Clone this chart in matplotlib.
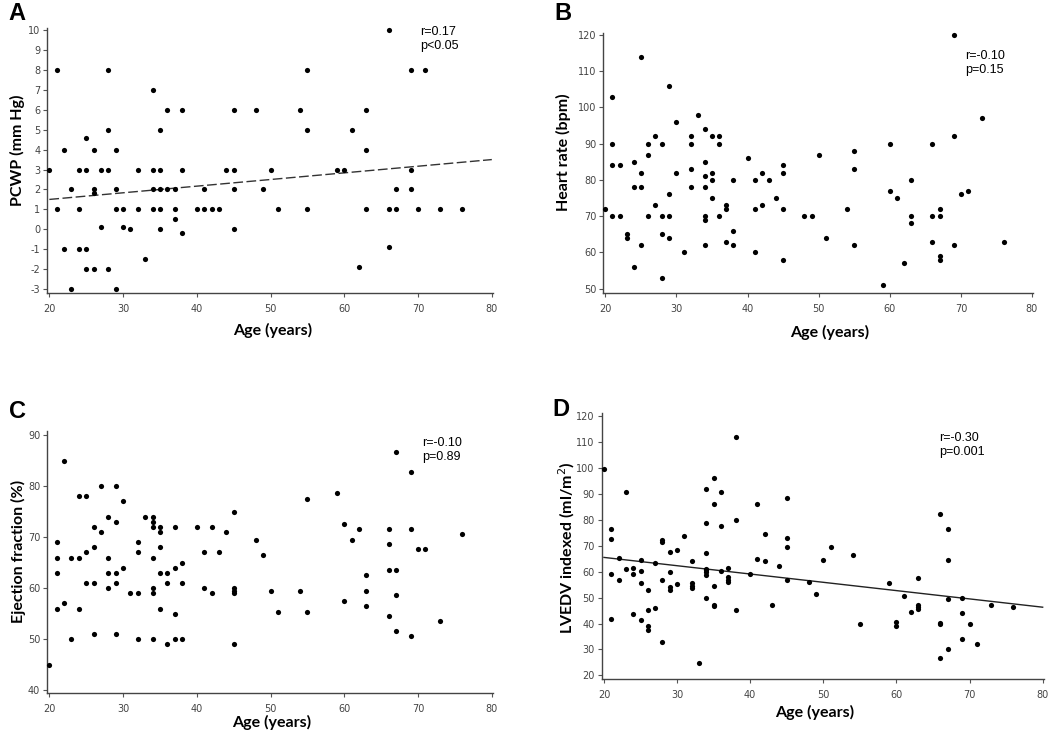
import numpy as np
import matplotlib.pyplot as plt

plt.rcParams['axes.unicode_minus'] = False

# --------------------------------------------------------------------------------------
# Data (age in years, one value per patient)

age_a = [20,
         21, 21, 22, 22, 23, 23,
         24, 24, 24,
         25, 25, 25, 25,
         26, 26, 26, 26,
         27, 27,
         28, 28, 28, 28,
         29, 29, 29, 29,
         30, 30, 31, 32, 32, 33,
         34, 34, 34, 34,
         35, 35, 35, 35, 35,
         36, 36,
         37, 37, 37,
         38, 38, 38,
         40, 41, 41, 42, 43, 44,
         45, 45, 45, 45,
         48, 49, 50, 51, 54,
         55, 55, 55,
         59, 60, 61, 62,
         63, 63, 63,
         66, 66, 66,
         67, 67,
         69, 69, 69,
         70, 71, 73, 76]
pcwp = [3,
        8, 1, 4, -1, 2, -3,
        3, 1, -1,
        4.6, 3, -1, -2,
        4, 2, 1.8, -2,
        3, 0.1,
        8, 5, 3, -2,
        4, 2, 1, -3,
        1, 0.1, 0, 3, 1, -1.5,
        7, 3, 2, 1,
        5, 3, 2, 1, 0,
        6, 2,
        2, 1, 0.5,
        6, 3, -0.2,
        1, 2, 1, 1, 1, 3,
        6, 3, 2, 0,
        6, 2, 3, 1, 6,
        8, 5, 1,
        3, 3, 5, -1.9,
        6, 4, 1,
        10, 1, -0.9,
        2, 1,
        8, 3, 2,
        1, 8, 1, 1]

age_b = [20,
         21, 21, 21, 21,
         22, 22, 23, 23,
         24, 24, 24,
         25, 25, 25, 25,
         26, 26, 26,
         27, 27,
         28, 28, 28, 28,
         29, 29, 29, 29,
         30, 30, 31,
         32, 32, 32, 32,
         33,
         34, 34, 34, 34, 34, 34, 34,
         35, 35, 35, 35,
         36, 36, 36,
         37, 37, 37,
         38, 38, 38,
         40, 41, 41, 41,
         42, 42, 43, 44,
         45, 45, 45, 45,
         48, 49, 50, 51, 54,
         55, 55, 55,
         59, 60, 60, 61, 62,
         63, 63, 63,
         66, 66, 66,
         67, 67, 67, 67,
         69, 69, 69,
         70, 71, 73, 76]
heart_rate = [72,
              103, 90, 84, 70,
              84, 70, 65, 64,
              85, 78, 56,
              114, 82, 78, 62,
              90, 87, 70,
              92, 73,
              90, 70, 65, 53,
              106, 76, 70, 64,
              96, 82, 60,
              92, 90, 83, 78,
              98,
              94, 85, 81, 78, 70, 69, 62,
              92, 82, 80, 75,
              92, 90, 70,
              73, 72, 63,
              80, 66, 62,
              86, 80, 72, 60,
              82, 73, 80, 75,
              84, 82, 72, 58,
              70, 70, 87, 64, 72,
              88, 83, 62,
              51, 90, 77, 75, 57,
              80, 70, 68,
              90, 70, 63,
              72, 70, 59, 58,
              120, 92, 62,
              76, 77, 97, 63]

age_c = [20,
         21, 21, 21, 21,
         22, 22, 23, 23,
         24, 24, 24,
         25, 25, 25,
         26, 26, 26, 26,
         27, 27,
         28, 28, 28, 28,
         29, 29, 29, 29, 29,
         30, 30, 31,
         32, 32, 32, 32,
         33,
         34, 34, 34, 34, 34, 34, 34,
         35, 35, 35, 35, 35,
         36, 36, 36,
         37, 37, 37, 37,
         38, 38, 38,
         40, 41, 41, 42, 42, 43, 44,
         45, 45, 45, 45, 45,
         48, 49, 50, 51, 54,
         55, 55, 59, 60, 60, 61, 62,
         63, 63, 63,
         66, 66, 66, 66,
         67, 67, 67, 67,
         69, 69, 69,
         70, 71, 73, 76]
ejection = [45,
            69, 66, 63, 56,
            85, 57, 66, 50,
            78, 66, 56,
            78, 67, 61,
            72, 68, 61, 51,
            80, 71,
            74, 66, 63, 60,
            80, 73, 63, 61, 51,
            77, 64, 59,
            69, 67, 59, 50,
            74,
            74, 73, 72, 66, 60, 59, 50,
            72, 71, 68, 63, 56,
            63, 61, 49,
            72, 64, 55, 50,
            65, 61, 50,
            72, 67, 60, 72, 59, 67, 71,
            75, 60, 59.5, 59, 49,
            69.4, 66.4, 59.5, 55.4, 59.5,
            77.5, 55.4, 78.6, 72.5, 57.5, 69.5, 71.6,
            62.5, 59.5, 56.5,
            71.6, 68.6, 63.6, 54.6,
            86.7, 63.6, 58.6, 51.5,
            82.7, 71.6, 50.6,
            67.6, 67.6, 53.6, 70.7]

age_d = [20,
         21, 21, 21, 21,
         22, 22, 23, 23,
         24, 24, 24,
         25, 25, 25, 25,
         26, 26, 26, 26,
         27, 27,
         28, 28, 28, 28,
         29, 29, 29, 29,
         30, 30, 31,
         32, 32, 32, 32,
         33,
         34, 34, 34, 34, 34, 34, 34, 34,
         35, 35, 35, 35, 35,
         36, 36, 36,
         37, 37, 37, 37,
         38, 38, 38,
         40, 41, 41, 42, 42, 43, 44,
         45, 45, 45, 45,
         48, 49, 50, 51, 54, 55, 59,
         60, 60, 61, 62,
         63, 63, 63, 63,
         66, 66, 66, 66,
         67, 67, 67, 67,
         69, 69, 69,
         70, 71, 73, 76]
lvedv = [99.6,
         76.6, 72.6, 59.2, 41.9,
         65.1, 56.8, 90.6, 61.1,
         61.5, 59.2, 43.5,
         64.6, 60.1, 55.6, 41.2,
         52.9, 45.2, 39.2, 37.4,
         63.4, 46.0,
         72.1, 71.6, 56.6, 32.7,
         67.7, 59.8, 54.1, 52.8,
         68.2, 55.2, 73.7,
         64.3, 55.6, 54.6, 53.8,
         24.9,
         91.9, 78.7, 67.3, 61.1, 60.5, 59.7, 58.8, 49.8,
         96.1, 86.1, 54.4, 47.2, 46.7,
         90.6, 77.7, 60.2,
         61.4, 57.8, 56.9, 55.9,
         112, 80, 45.3,
         59.2, 86.2, 64.7, 74.5, 64.2, 47.2, 62,
         88.6, 72.8, 69.5, 56.8,
         55.9, 51.2, 64.6, 69.4, 66.4, 39.8, 55.5,
         40.7, 38.9, 50.7, 44.3,
         57.4, 47.1, 46.2, 45.6,
         82.2, 40.2, 39.7, 26.6,
         76.6, 64.6, 49.3, 30,
         49.7, 44.2, 33.9,
         40, 32.1, 47, 46.5]

# regression lines (end points at age 20 and 80)
fit_age = [20, 80]
fit_a = [1.5, 3.5]
fit_d = [65.5, 46.3]

# --------------------------------------------------------------------------------------
# Figure in pixels: 1050 x 732

W, H = 1050, 732
fig = plt.figure(figsize=(W / 100, H / 100), dpi=100)


def px(x, y):
    # pixel position -> figure fraction
    return x / W, 1 - y / H


def panel(rect, ylim, yticks):
    ax = fig.add_axes(rect)
    ax.set_xlim(19.7, 80.2)
    ax.set_ylim(*ylim)
    ax.set_xticks(range(20, 81, 10))
    ax.set_yticks(yticks)
    for s in ['top', 'right']:
        ax.spines[s].set_visible(False)
    for s in ['left', 'bottom']:
        ax.spines[s].set_color('#444444')
        ax.spines[s].set_linewidth(1.0)
    ax.tick_params(direction='out', length=3, width=0.8, color='#555555',
                   labelsize=7, labelcolor='#444444')
    ax.tick_params(axis='x', pad=5)
    ax.tick_params(axis='y', pad=2)
    return ax


def dots(ax, x, y):
    ax.scatter(x, y, s=14, color='black', linewidths=0, clip_on=False, zorder=3)


lab = dict(fontfamily='Lato', fontweight='bold', fontsize=11.5, ha='center', va='center')
let = dict(fontfamily='Liberation Sans', fontweight='bold', fontsize=17, ha='center', va='center')
ann = dict(fontfamily='Liberation Sans', fontsize=9, ha='left', va='top', linespacing=1.25)

# --- A : PCWP
axA = panel([0.0449, 0.6004, 0.4249, 0.3613], (-3.17, 10.1), range(-3, 11))
dots(axA, age_a, pcwp)
axA.plot(fit_age, fit_a, color='#333333', lw=1.0, linestyle=(0, (7, 2.5)))
fig.text(*px(420, 26), "r=0.17\np<0.05", **ann)
fig.text(*px(17, 14), "A", **let)
fig.text(*px(17, 150), "PCWP (mm Hg)", rotation=90, **lab)
fig.text(*px(273, 330), "Age (years)", **lab)

# --- B : heart rate
axB = panel([0.5745, 0.6001, 0.4097, 0.3552], (48.9, 120.6), range(50, 121, 10))
dots(axB, age_b, heart_rate)
fig.text(*px(965, 50), "r=-0.10\np=0.15", **ann)
fig.text(*px(563, 13), "B", **let)
fig.text(*px(563, 152), "Heart rate (bpm)", rotation=90, **lab)
fig.text(*px(830, 332), "Age (years)", **lab)

# --- C : ejection fraction
axC = panel([0.0449, 0.0537, 0.4249, 0.3575], (39.5, 90.8), range(40, 91, 10))
dots(axC, age_c, ejection)
fig.text(*px(422, 437), "r=-0.10\np=0.89", **ann)
fig.text(*px(17, 412), "C", **let)
fig.text(*px(18, 551), "Ejection fraction (%)", rotation=90, **lab)
fig.text(*px(272, 722), "Age (years)", **lab)

# --- D : LVEDV indexed
axD = panel([0.5731, 0.0720, 0.4213, 0.3642], (18.5, 121.3), range(20, 121, 10))
dots(axD, age_d, lvedv)
axD.plot(fit_age, fit_d, color='#222222', lw=1.0)
fig.text(*px(939, 432), "r=-0.30\np=0.001", **ann)
fig.text(*px(561, 409), "D", **let)
fig.text(*px(567, 548), "LVEDV indexed (ml/m$^2$)", rotation=90, **lab)
fig.text(*px(815, 712), "Age (years)", **lab)

fig.savefig("out.png", dpi=100)
